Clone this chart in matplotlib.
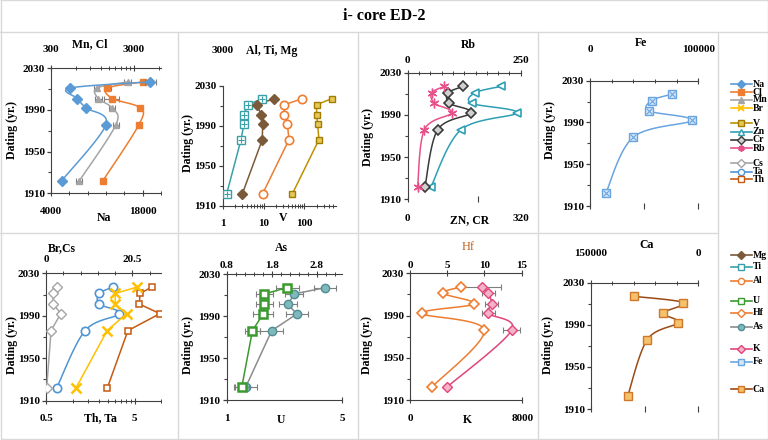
import numpy as np
import matplotlib
matplotlib.use("Agg")
import matplotlib.pyplot as plt
from matplotlib.transforms import blended_transform_factory, Bbox
from matplotlib.ticker import FixedLocator, NullFormatter, NullLocator

plt.rcParams['font.family'] = ['Liberation Serif', 'DejaVu Serif']
plt.rcParams['font.weight'] = 'bold'

# ---------------- data ----------------
dating = [2017, 2011, 2001, 1992, 1976, 1922]

na = [19200, 6900, 8000, 9350, 12400, 5630]
na_err = [800, 0, 0, 0, 0, 0]
cl = [3930, 1440, 1660, 3580, 3470, 1270]
cl_rel = [0.07, 0.10, 0.20, 0.05, 0.03, 0.03]
mn = [2540, 1070, 1120, 1630, 1830, 660]
mn_rel = [0.10, 0.08, 0.10, 0.08, 0.08, 0.08]

v = [467, 200, 200, 211, 228, 51]
ti = [28000, 12300, 9980, 9980, 8430, 3760]
mg = [53200, 20800, 26100, 28600, 28000, 9100]
al = [268000, 97100, 97100, 115000, 126000, 28600]

zn = [264, 191, 181, 309, 151, 66]
cr = [158, 115, 118, 179, 85, 49]
rb = [81, 53, 59, 97, 37, 22]

fe = [75400, 56900, 54500, 93800, 40000, 14500]

cs = [2.7, 1.6, 1.75, 3.5, 1.2, 0.16]
br = [21.6, 16.4, 16.4, 19.1, 14.5, 7.1]
ta = [2.87, 2.0, 2.0, 3.36, 1.38, 0.66]
th = [7.8, 5.75, 5.65, 9.65, 4.2, 2.46]

as_ = [2.99, 2.30, 2.16, 2.36, 1.80, 1.22]
as_err = [0.25, 0.2, 0.2, 0.25, 0.25, 0.25]
u = [3.09, 2.30, 2.30, 2.26, 1.89, 1.52]
u_err = [0.4, 0.3, 0.3, 0.35, 0.25, 0.25]

hf = [6.85, 4.5, 8.65, 1.65, 10.0, 2.9]
k = [5100, 5580, 5820, 5580, 7240, 2610]
k_err = [1350, 450, 450, 450, 600, 0]

ca = [89400, 21000, 48900, 28900, 71300, 98800]

year_ticks = [1910, 1950, 1990, 2030]
year_minor = [1930, 1970, 2010]

# ---------------- helpers ----------------
W, H = 768, 440
fig = plt.figure(figsize=(W / 100, H / 100), dpi=100)
fig.patch.set_facecolor('white')
AX_COL = '#404040'
TICK_FS = 8
LAB_FS = 8.5


def add_ax(x0, x1, y0, y1):
    return fig.add_axes([x0 / W, 1 - y1 / H, (x1 - x0) / W, (y1 - y0) / H])


def ftext(x, y, s, **kw):
    kw.setdefault('ha', 'center')
    kw.setdefault('va', 'center')
    kw.setdefault('fontsize', LAB_FS)
    return fig.text(x / W, 1 - y / H, s, **kw)


def xlabels(ax, vals, texts, ypx, clip=None):
    tr = blended_transform_factory(ax.transData, fig.transFigure)
    for val, t in zip(vals, texts):
        tt = ax.text(val, 1 - ypx / H, t, transform=tr, ha='center', va='center',
                     fontsize=TICK_FS)
        if clip is not None:
            tt.set_clip_box(clip)
            tt.set_clip_on(True)


def smooth(x, y, logx=False, n=24):
    x = np.asarray(x, float)
    y = np.asarray(y, float)
    xs = np.log10(x) if logx else x
    P = np.column_stack([xs, y])
    P = np.vstack([P[0], P, P[-1]])
    out = []
    t = np.linspace(0, 1, n)[:, None]
    for i in range(1, len(P) - 2):
        p0, p1, p2, p3 = P[i - 1], P[i], P[i + 1], P[i + 2]
        c1 = p1 + (p2 - p0) / 6
        c2 = p2 - (p3 - p1) / 6
        seg = (1 - t) ** 3 * p1 + 3 * (1 - t) ** 2 * t * c1 + 3 * (1 - t) * t ** 2 * c2 + t ** 3 * p2
        out.append(seg if i == 1 else seg[1:])
    pts = np.vstack(out)
    xx = 10 ** pts[:, 0] if logx else pts[:, 0]
    return xx, pts[:, 1]


def series(ax, x, y, color, marker, mfc, mec=None, ms=5, smooth_line=False, logx=False,
           lw=1.1, mew=1.0, xerr=None, overlay=None):
    if xerr is not None:
        ax.errorbar(x, y, xerr=xerr, fmt='none', ecolor='#7f7f7f', elinewidth=0.8,
                    capsize=2, capthick=0.8, zorder=2)
    if smooth_line:
        sx, sy = smooth(x, y, logx)
        ax.plot(sx, sy, color=color, lw=lw, zorder=3)
    else:
        ax.plot(x, y, color=color, lw=lw, zorder=3)
    ax.plot(x, y, ls='none', marker=marker, ms=ms, mfc=mfc, mec=mec or color, mew=mew, zorder=4)
    if overlay:
        ax.plot(x, y, ls='none', marker=overlay, ms=ms * 0.7, mec=mec or color, mew=0.8, zorder=5)


def panel(box, ylab_pos, bottom=True, top=True):
    ax = add_ax(*box)
    ax.set_facecolor('none')
    ax.set_ylim(1910, 2030)
    ax.yaxis.set_major_locator(FixedLocator(year_ticks))
    ax.yaxis.set_minor_locator(FixedLocator(year_minor))
    ax.tick_params(axis='y', which='major', direction='out', length=3, width=0.9, pad=1.5,
                   labelsize=TICK_FS, colors=AX_COL, labelcolor='black')
    ax.tick_params(axis='y', which='minor', direction='out', length=2, width=0.8, colors=AX_COL)
    for s in ['right', 'top']:
        ax.spines[s].set_visible(False)
    ax.spines['left'].set_color(AX_COL)
    ax.spines['bottom'].set_color(AX_COL)
    ax.spines['bottom'].set_visible(bottom)
    ax.tick_params(axis='x', which='both', labelbottom=False, bottom=bottom,
                   direction='inout', colors=AX_COL)
    ax.tick_params(axis='x', which='major', length=4, width=0.8)
    ax.tick_params(axis='x', which='minor', length=3, width=0.7)
    axt = ax.twiny()
    axt.set_facecolor('none')
    for s in ['right', 'bottom', 'left']:
        axt.spines[s].set_visible(False)
    axt.spines['top'].set_color(AX_COL)
    axt.spines['top'].set_visible(top)
    axt.tick_params(axis='x', which='both', labeltop=False, top=top, direction='inout',
                    colors=AX_COL)
    axt.tick_params(axis='x', which='major', length=4, width=0.8)
    axt.tick_params(axis='x', which='minor', length=3, width=0.7)
    ftext(ylab_pos[0], ylab_pos[1], 'Dating (yr.)', rotation=90)
    return ax, axt


# colors
C_NA, C_CL, C_MN, C_BR = '#5b9bd5', '#ed7d31', '#a5a5a5', '#ffc000'
C_V, C_ZN, C_CR, C_RB = '#bf9000', '#2e9fb4', '#3a3a3a', '#e8508a'
C_CS, C_TA, C_TH = '#a5a5a5', '#4f94d4', '#c55a11'
C_MG, C_TI, C_AL = '#7b5a3a', '#3aa0a8', '#ed7d31'
C_U, C_HF, C_AS = '#3a9a2e', '#ed7d31', '#8c8c8c'
C_K, C_FE, C_CA = '#e0457b', '#6aa5e0', '#9c4a14'

# ---------------- panel 1 ----------------
ax, axt = panel((51, 161.3, 68.3, 193.3), (12, 130))
ax.set_xlim(4000, 20850)
ax.xaxis.set_major_locator(FixedLocator([4000, 18000]))
ax.xaxis.set_minor_locator(FixedLocator(np.arange(4000, 20850, 2800)))
axt.set_xscale('log')
axt.set_xlim(300, 6460)
axt.xaxis.set_major_locator(FixedLocator([300, 3000]))
axt.xaxis.set_minor_locator(FixedLocator(list(range(600, 3000, 300)) + [6000]))
axt.xaxis.set_minor_formatter(NullFormatter())
series(axt, mn, dating, C_MN, '^', C_MN, smooth_line=True, logx=True,
       xerr=[np.array(mn) * np.array(mn_rel), np.array(mn) * np.array(mn_rel)])
series(axt, cl, dating, C_CL, 's', C_CL, smooth_line=True, logx=True,
       xerr=[np.array(cl) * np.array(cl_rel), np.array(cl) * np.array(cl_rel)])
series(ax, na, dating, C_NA, 'D', C_NA, smooth_line=True, xerr=na_err)
ax.set_zorder(axt.get_zorder() + 1)
xlabels(axt, [300, 3000], ['300', '3000'], 50)
xlabels(ax, [4000, 18000], ['4000', '18000'], 211)
ftext(90, 44, 'Mn, Cl')
ftext(104, 218, 'Na')

# ---------------- panel 2 ----------------
ax, axt = panel((222.7, 336, 85.7, 205.7), (188.3, 143.3), top=False)
ax.set_xscale('log')
ax.set_xlim(1, 597)
ax.xaxis.set_major_locator(FixedLocator([1, 10, 100]))
ax.xaxis.set_minor_locator(FixedLocator([m * d for d in (1, 10, 100) for m in range(2, 10) if m * d < 597]))
ax.xaxis.set_minor_formatter(NullFormatter())
axt.set_xscale('log')
axt.set_xlim(3000, 3000 * 597)
axt.xaxis.set_major_locator(NullLocator())
axt.xaxis.set_minor_locator(NullLocator())
series(ax, v, dating, C_V, 's', '#e6c85a', mec='#a07d00', ms=5)
series(axt, ti, dating, C_TI, 's', 'white', ms=5.5, overlay='+')
series(axt, mg, dating, C_MG, 'D', C_MG, ms=5)
series(axt, al, dating, C_AL, 'o', 'white', ms=6, mew=1.2)
xlabels(ax, [1, 10, 100], ['1', '10', '100'], 223.3)
xlabels(axt, [3000], ['3000'], 50.7)
ftext(271.7, 50.7, 'Al, Ti, Mg')
ftext(283.3, 218.3, 'V')

# ---------------- panel 3 ----------------
ax, axt = panel((407.7, 520.7, 72.7, 199.3), (368.3, 136.7), bottom=False)
ax.set_xlim(0, 320)
axt.set_xlim(0, 250)
axt.xaxis.set_major_locator(FixedLocator([0, 250]))
axt.xaxis.set_minor_locator(FixedLocator(np.arange(25, 250, 25)))
series(ax, zn, dating, C_ZN, '<', 'white', ms=6, smooth_line=True, mew=1.2)
series(ax, cr, dating, C_CR, 'D', '#d0d0d0', ms=5, smooth_line=True, mew=1.2)
series(axt, rb, dating, C_RB, (6, 2, 0), C_RB, ms=7, smooth_line=True, mew=1.0)
xlabels(axt, [0, 250], ['0', '250'], 60.7)
xlabels(ax, [0, 320], ['0', '320'], 218.3)
ftext(468.3, 45, 'Rb')
ftext(470, 220, 'ZN, CR')

# ---------------- panel 4 ----------------
ax, axt = panel((590, 698.3, 80.7, 206), (550, 130), bottom=False)
axt.set_xlim(0, 100000)
axt.xaxis.set_major_locator(FixedLocator([0, 100000]))
axt.xaxis.set_minor_locator(FixedLocator(np.arange(20000, 100000, 20000)))
series(axt, fe, dating, C_FE, 's', '#d6e6f7', ms=6, smooth_line=True, overlay='x')
clip = Bbox.from_extents(0, 0, 716, 440)
xlabels(axt, [0, 100000], ['0', '100000'], 49.3, clip=clip)
ftext(641, 43.3, 'Fe')

# ---------------- panel 5 ----------------
ax, axt = panel((46, 161.3, 273.3, 400.7), (11.7, 345))
ax.set_xscale('log')
ax.set_xlim(0.5, 10)
ax.xaxis.set_major_locator(FixedLocator([0.5, 5]))
ax.xaxis.set_minor_locator(FixedLocator(list(np.arange(1, 5, 0.5)) + [10]))
ax.xaxis.set_minor_formatter(NullFormatter())
axt.set_xlim(0, 27.33)
axt.xaxis.set_major_locator(FixedLocator([0, 20.5]))
axt.xaxis.set_minor_locator(FixedLocator(np.arange(4.1, 27.3, 4.1)))
series(axt, cs, dating, C_CS, 'D', 'white', ms=5)
series(ax, ta, dating, C_TA, 'o', 'white', ms=6, smooth_line=True, logx=True, mew=1.2)
series(axt, br, dating, C_BR, 'x', C_BR, ms=7, mew=1.8)
series(ax, th, dating, C_TH, 's', 'white', ms=5, mew=1.1)
xlabels(axt, [0, 20.5], ['0', '20.5'], 259)
xlabels(ax, [0.5, 5], ['0.5', '5'], 418.3)
ftext(61.7, 248.3, 'Br,Cs')
ftext(100, 418.3, 'Th, Ta')

# ---------------- panel 6 ----------------
ax, axt = panel((226.7, 342.3, 274, 400), (188.3, 345))
ax.set_xlim(1, 5)
ax.xaxis.set_major_locator(FixedLocator([1, 5]))
axt.set_xlim(0.8, 3.37)
axt.xaxis.set_major_locator(FixedLocator([0.8, 1.8, 2.8]))
axt.xaxis.set_minor_locator(FixedLocator(np.arange(1.0, 3.37, 0.2)))
series(axt, as_, dating, C_AS, 'o', '#7fb8bd', mec='#4f8f94', ms=6, xerr=as_err)
series(ax, u, dating, C_U, 's', 'white', ms=6, mew=1.8, xerr=u_err)
ax.set_zorder(axt.get_zorder() + 1)
xlabels(axt, [0.8, 1.8, 2.8], ['0.8', '1.8', '2.8'], 265)
xlabels(ax, [1, 5], ['1', '5'], 418.3)
ftext(281, 247.7, 'As')
ftext(281, 420, 'U')

# ---------------- panel 7 ----------------
ax, axt = panel((410, 522.3, 273.3, 400), (366.7, 345))
ax.set_xlim(0, 8000)
ax.xaxis.set_major_locator(FixedLocator([0, 8000]))
axt.set_xlim(0, 15.1)
axt.xaxis.set_major_locator(FixedLocator([0, 5, 10, 15]))
series(axt, hf, dating, C_HF, 'D', 'white', ms=5, smooth_line=True, mew=1.2)
series(ax, k, dating, C_K, 'D', '#f5b3c8', ms=5.5, smooth_line=True, xerr=k_err)
xlabels(axt, [0, 5, 10, 15], ['0', '5', '10', '15'], 265.7)
xlabels(ax, [0, 8000], ['0', '8000'], 418.3)
ftext(468.3, 246.7, 'Hf', color='#c06020', fontweight='normal', fontsize=9)
ftext(467.7, 420, 'K')

# ---------------- panel 8 ----------------
ax, axt = panel((591, 698.3, 282.7, 409), (548.3, 345), bottom=False)
axt.set_xlim(150000, 0)
axt.xaxis.set_major_locator(FixedLocator([150000, 0]))
axt.xaxis.set_minor_locator(FixedLocator(np.arange(30000, 150000, 30000)))
series(axt, ca, dating, C_CA, 's', '#f5c16b', mec='#d0782a', ms=6, smooth_line=True)
xlabels(axt, [150000, 0], ['150000', '0'], 253.3)
ftext(646.7, 245, 'Ca')

# ---------------- frame lines ----------------
fr = fig.add_axes([0, 0, 1, 1], zorder=-5)
fr.set_xlim(0, W)
fr.set_ylim(H, 0)
fr.axis('off')
LC = '#d9d9d9'
fr.plot([0.5, 767.5, 767.5, 0.5, 0.5], [0.5, 0.5, 439.5, 439.5, 0.5], color=LC, lw=1)
fr.plot([0, W], [32, 32], color=LC, lw=1)
for xv in (178, 358, 538, 718):
    fr.plot([xv, xv], [32, H], color=LC, lw=1)
fr.plot([0, 718], [233, 233], color=LC, lw=1)
ftext(384, 16, 'i- core ED-2', fontsize=11.5)

# ---------------- legend ----------------
lg = fig.add_axes([0, 0, 1, 1], zorder=5)
lg.set_xlim(0, W)
lg.set_ylim(H, 0)
lg.axis('off')
legend_items = [
    ('Na', C_NA, 'D', C_NA, None, 84.3),
    ('Cl', C_CL, 's', C_CL, None, 92.3),
    ('Mn', C_MN, '^', C_MN, None, 100),
    ('Br', C_BR, 'x', C_BR, None, 108.3),
    ('V', C_V, 's', '#e6c85a', '#a07d00', 123.3),
    ('Zn', C_ZN, '^', 'white', None, 131.7),
    ('Cr', C_CR, 'D', '#d0d0d0', None, 140),
    ('Rb', C_RB, (6, 2, 0), C_RB, None, 148.3),
    ('Cs', C_CS, 'D', 'white', None, 163.3),
    ('Ta', C_TA, 'o', 'white', None, 171.7),
    ('Th', C_TH, 's', 'white', None, 179.3),
    ('Mg', C_MG, 'D', C_MG, None, 255),
    ('Ti', C_TI, 's', 'white', None, 266.7),
    ('Al', C_AL, 'o', 'white', None, 280.7),
    ('U', C_U, 's', 'white', None, 300.7),
    ('Hf', C_HF, 'D', 'white', None, 312.7),
    ('As', C_AS, 'o', '#7fb8bd', '#4f8f94', 326.7),
    ('K', C_K, 'D', '#f5b3c8', None, 348.7),
    ('Fe', C_FE, 's', '#d6e6f7', None, 362),
    ('Ca', C_CA, 's', '#f5c16b', '#d0782a', 389.3),
]
for name, col, mk, mfc, mec, yy in legend_items:
    lg.plot([730.7, 751.7], [yy, yy], color=col, lw=1.2)
    lg.plot([741.2], [yy], ls='none', marker=mk, ms=4.5, mfc=mfc, mec=mec or col,
            mew=1.3 if mk in ('x', (6, 2, 0)) else 1.0)
    lg.text(752.5, yy, name, ha='left', va='center', fontsize=7)

fig.savefig('out.png', dpi=100, facecolor='white')
